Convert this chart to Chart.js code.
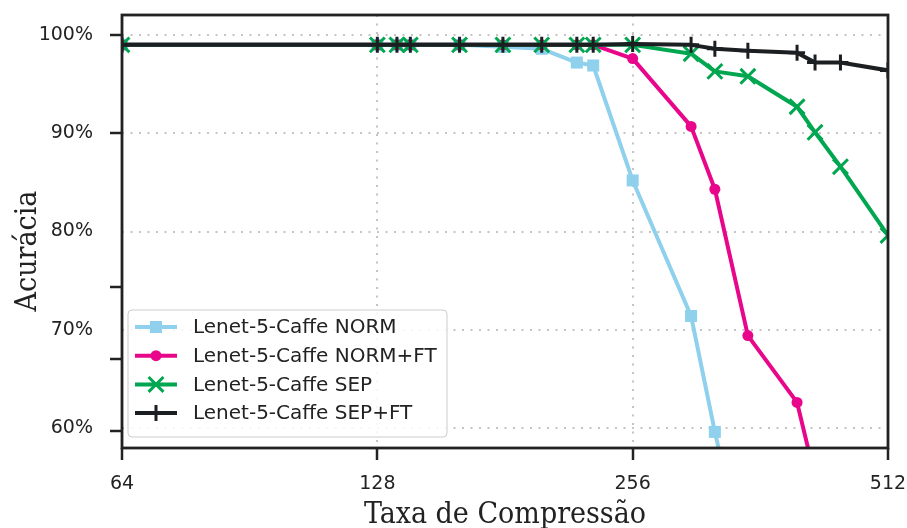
<!DOCTYPE html>
<html>
<head>
<meta charset="utf-8">
<script src="https://cdn.jsdelivr.net/npm/chart.js@4"></script>
<style>
  html, body { margin: 0; padding: 0; background: #fff; }
  #acc { display: block; }
</style>
</head>
<body>
<canvas id="acc" width="907" height="528"></canvas>
<script>
// compression ratios (x) shared by every run
const taxa = [64, 128, 135, 140, 160, 180, 200, 220, 230, 256, 300, 320, 350, 400, 420, 450, 512];

// accuracy (%) per method, one value per entry of taxa
const accNorm   = [99.0, 99.0, 99.0, 99.0, 99.0, 98.8, 98.6, 97.2, 96.9, 85.2, 71.4, 59.6, 45.0];
const accNormFt = [99.0, 99.0, 99.0, 99.0, 99.0, 99.0, 99.0, 99.0, 99.0, 97.6, 90.7, 84.3, 69.4, 62.6, 55.0];
const accSep    = [99.0, 99.0, 99.0, 99.0, 99.0, 99.0, 99.0, 99.0, 99.0, 99.0, 98.1, 96.3, 95.8, 92.7, 90.1, 86.6, 79.6];
const accSepFt  = [99.0, 99.0, 99.0, 99.0, 99.0, 99.0, 99.0, 99.0, 99.0, 99.1, 99.0, 98.6, 98.4, 98.2, 97.2, 97.2, 96.4];

const xTicks = [64, 128, 256, 512];
const yTicks = [60, 70, 80, 90, 100];
// small marks on the left spine
const ySpineMarks = [100, 90, 74.3, 67.0, 59.7];

const labels = ['Lenet-5-Caffe NORM', 'Lenet-5-Caffe NORM+FT', 'Lenet-5-Caffe SEP', 'Lenet-5-Caffe SEP+FT'];
const colors = ['#8fd0ec', '#e8068a', '#00a650', '#1c1f22'];

const INK = '#222222';
const TICK_FONT = { family: 'DejaVu Sans', size: 19 };

function pts(vals) {
  return vals.map((v, i) => ({ x: taxa[i], y: v }));
}

const styles = [
  { pointStyle: 'rect', pointRadius: 8.5, pointBorderWidth: 0 },
  { pointStyle: 'circle', pointRadius: 5.5, pointBorderWidth: 0 },
  { pointStyle: 'crossRot', pointRadius: 10.5, pointBorderWidth: 3 },
  { pointStyle: 'cross', pointRadius: 8, pointBorderWidth: 3 }
];
const series = [accNorm, accNormFt, accSep, accSepFt];

const datasets = series.map((vals, i) => Object.assign({
  label: labels[i],
  data: pts(vals),
  borderColor: colors[i],
  backgroundColor: colors[i],
  pointBackgroundColor: colors[i],
  pointBorderColor: colors[i],
  pointHoverRadius: 0,
  borderWidth: 4,
  borderJoinStyle: 'round',
  tension: 0,
  fill: false,
  order: 4 - i
}, styles[i]));

function marker(ctx, style, color, x, y) {
  const r = style.pointRadius;
  ctx.save();
  ctx.fillStyle = color;
  ctx.strokeStyle = color;
  ctx.lineWidth = style.pointBorderWidth;
  ctx.beginPath();
  if (style.pointStyle === 'rect') {
    const s = r * Math.SQRT1_2;
    ctx.fillRect(x - s, y - s, 2 * s, 2 * s);
  } else if (style.pointStyle === 'circle') {
    ctx.arc(x, y, r, 0, Math.PI * 2);
    ctx.fill();
  } else if (style.pointStyle === 'cross') {
    ctx.moveTo(x, y - r); ctx.lineTo(x, y + r);
    ctx.moveTo(x - r, y); ctx.lineTo(x + r, y);
    ctx.stroke();
  } else {
    const d = r * Math.SQRT1_2;
    ctx.moveTo(x - d, y - d); ctx.lineTo(x + d, y + d);
    ctx.moveTo(x - d, y + d); ctx.lineTo(x + d, y - d);
    ctx.stroke();
  }
  ctx.restore();
}

const framePlugin = {
  id: 'frame',
  afterDraw(chart) {
    const { ctx, chartArea: a, scales } = chart;
    ctx.save();
    // spine marks on y
    ctx.strokeStyle = INK;
    ctx.lineWidth = 2.5;
    ySpineMarks.forEach(v => {
      const y = Math.round(scales.y.getPixelForValue(v));
      ctx.beginPath();
      ctx.moveTo(a.left - 12, y);
      ctx.lineTo(a.left, y);
      ctx.stroke();
    });
    // box round the plot
    ctx.lineWidth = 2.8;
    ctx.strokeRect(a.left, a.top, a.right - a.left, a.bottom - a.top);

    // axis titles
    ctx.fillStyle = INK;
    ctx.font = '30px "DejaVu Serif Condensed", "DejaVu Serif"';
    ctx.textAlign = 'center';
    ctx.textBaseline = 'alphabetic';
    ctx.fillText('Taxa de Compressão', (a.left + a.right) / 2, 523);
    ctx.save();
    ctx.translate(36, 251);
    ctx.rotate(-Math.PI / 2);
    ctx.fillText('Acurácia', 0, 0);
    ctx.restore();

    // legend
    const bx = 128, by = 310, bw = 319, bh = 127;
    ctx.beginPath();
    ctx.roundRect(bx, by, bw, bh, 4);
    ctx.fillStyle = 'rgba(255,255,255,0.85)';
    ctx.fill();
    ctx.strokeStyle = '#cccccc';
    ctx.lineWidth = 1;
    ctx.stroke();
    ctx.font = '20px "DejaVu Sans"';
    ctx.textAlign = 'left';
    ctx.textBaseline = 'middle';
    labels.forEach((lab, i) => {
      const y = 327 + i * 28.7;
      ctx.strokeStyle = colors[i];
      ctx.lineWidth = 4;
      ctx.beginPath();
      ctx.moveTo(135, y);
      ctx.lineTo(177, y);
      ctx.stroke();
      marker(ctx, styles[i], colors[i], 156, y);
      ctx.fillStyle = INK;
      ctx.fillText(lab, 193, y + 1);
    });
    ctx.restore();
  }
};

new Chart(document.getElementById('acc'), {
  type: 'line',
  data: { datasets: datasets },
  options: {
    responsive: false,
    animation: false,
    events: [],
    layout: { padding: { top: 15, right: 19, left: 0, bottom: 0 } },
    plugins: { legend: { display: false }, tooltip: { enabled: false } },
    scales: {
      x: {
        type: 'logarithmic',
        min: 64,
        max: 512,
        afterBuildTicks: s => { s.ticks = xTicks.map(v => ({ value: v })); },
        afterFit: s => { s.height = 80; s.paddingLeft = 0; s.paddingRight = 0; },
        ticks: {
          color: INK,
          font: TICK_FONT,
          padding: 13,
          maxRotation: 0,
          callback: v => String(v)
        },
        grid: {
          color: '#c4c4c4',
          lineWidth: 2,
          drawTicks: true,
          tickLength: 12,
          tickColor: INK,
          tickWidth: 2.5
        },
        border: { display: false, dash: [2, 6.5] }
      },
      y: {
        min: 57.96,
        max: 102.04,
        afterBuildTicks: s => { s.ticks = yTicks.map(v => ({ value: v })); },
        afterFit: s => { s.width = 122; s.paddingTop = 0; s.paddingBottom = 0; },
        ticks: {
          color: INK,
          font: TICK_FONT,
          padding: 17,
          callback: v => v + '%'
        },
        grid: {
          color: '#c4c4c4',
          lineWidth: 2,
          drawTicks: true,
          tickLength: 12,
          tickColor: 'rgba(0,0,0,0)'
        },
        border: { display: false, dash: [2, 6.5] }
      }
    }
  },
  plugins: [framePlugin]
});
</script>
</body>
</html>
